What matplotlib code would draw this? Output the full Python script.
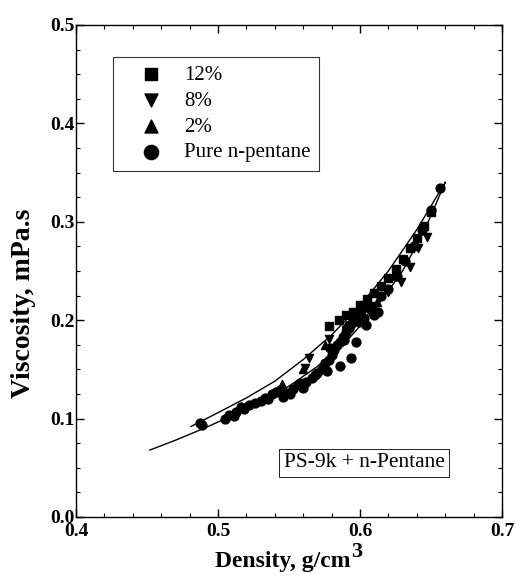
import numpy as np
import matplotlib.pyplot as plt

plt.rcParams['font.family'] = ['Liberation Serif', 'DejaVu Serif']

# PS-9k + n-pentane, viscosity vs density
# pure n-pentane
pure_d = [0.487, 0.489, 0.505, 0.508, 0.513, 0.518, 0.522, 0.526, 0.530, 0.535,
          0.538, 0.541, 0.546, 0.549, 0.553, 0.556, 0.560, 0.562, 0.566, 0.570,
          0.573, 0.575, 0.578, 0.580, 0.582, 0.584, 0.586, 0.588, 0.590, 0.592,
          0.594, 0.596, 0.598, 0.600, 0.602, 0.605, 0.608, 0.610, 0.577, 0.586,
          0.594, 0.597, 0.604, 0.613, 0.615, 0.620, 0.626, 0.632, 0.638, 0.644,
          0.650, 0.656, 0.511, 0.516, 0.533, 0.544, 0.551, 0.558, 0.568, 0.579,
          0.589, 0.599, 0.603]
pure_v = [0.095, 0.093, 0.100, 0.104, 0.107, 0.110, 0.114, 0.116, 0.118, 0.120,
          0.125, 0.127, 0.122, 0.126, 0.130, 0.134, 0.131, 0.137, 0.141, 0.146,
          0.150, 0.156, 0.160, 0.165, 0.170, 0.175, 0.178, 0.183, 0.188, 0.192,
          0.196, 0.200, 0.204, 0.208, 0.212, 0.216, 0.210, 0.205, 0.148, 0.153,
          0.162, 0.178, 0.195, 0.208, 0.225, 0.232, 0.245, 0.260, 0.275, 0.292,
          0.312, 0.334, 0.103, 0.112, 0.121, 0.129, 0.125, 0.136, 0.144, 0.172,
          0.180, 0.198, 0.202]

# 12 %
w12_d = [0.578, 0.585, 0.590, 0.595, 0.600, 0.605, 0.610, 0.615, 0.620, 0.625,
         0.630, 0.635, 0.640, 0.645, 0.650]
w12_v = [0.194, 0.200, 0.205, 0.208, 0.215, 0.222, 0.228, 0.235, 0.243, 0.252,
         0.262, 0.273, 0.283, 0.296, 0.310]

# 8 %
w8_d = [0.561, 0.564, 0.578, 0.590, 0.600, 0.610, 0.620, 0.629, 0.635, 0.641,
        0.647]
w8_v = [0.151, 0.162, 0.181, 0.190, 0.200, 0.214, 0.229, 0.239, 0.254, 0.273,
        0.285]

# 2 %
w2_d = [0.545, 0.560, 0.575, 0.590, 0.600, 0.612, 0.625]
w2_v = [0.135, 0.150, 0.175, 0.195, 0.205, 0.218, 0.245]

# model curves
fit1_d = [0.481, 0.500, 0.520, 0.540, 0.560, 0.580, 0.600, 0.620, 0.640, 0.660]
fit1_v = [0.092, 0.106, 0.121, 0.138, 0.160, 0.185, 0.215, 0.250, 0.292, 0.340]
fit2_d = [0.452, 0.470, 0.490, 0.510, 0.530, 0.550, 0.570, 0.590, 0.610, 0.630,
          0.645, 0.660]
fit2_v = [0.068, 0.078, 0.090, 0.103, 0.117, 0.133, 0.153, 0.178, 0.210, 0.250,
          0.290, 0.340]

fig = plt.figure(figsize=(5.16, 5.75), dpi=100)
ax = fig.add_axes([0.1473, 0.1009, 0.8256, 0.8557])

ax.plot(fit1_d, fit1_v, color='black', lw=1.0)
ax.plot(fit2_d, fit2_v, color='black', lw=1.0)

ms = 34
ax.scatter(w12_d, w12_v, marker='s', s=ms * 0.75, color='black', label='12%')
ax.scatter(w8_d, w8_v, marker='v', s=ms, color='black', label='8%')
ax.scatter(w2_d, w2_v, marker='^', s=ms, color='black', label='2%')
ax.scatter(pure_d, pure_v, marker='o', s=ms * 1.2, color='black',
           label='Pure n-pentane')

ax.set_xlim(0.4, 0.7)
ax.set_ylim(0.0, 0.5)
ax.set_xticks([0.4, 0.5, 0.6, 0.7])
ax.set_yticks([0.0, 0.1, 0.2, 0.3, 0.4, 0.5])
ax.set_xticks(np.arange(0.4, 0.7001, 0.02), minor=True)
ax.set_yticks(np.arange(0.0, 0.5001, 0.025), minor=True)
ax.xaxis.set_major_formatter(plt.FormatStrFormatter('%.1f'))
ax.yaxis.set_major_formatter(plt.FormatStrFormatter('%.1f'))
ax.tick_params(which='both', direction='in', top=True, right=True)
ax.tick_params(which='major', length=6, width=1, labelsize=14)
ax.tick_params(axis='x', which='major', pad=4)
ax.tick_params(axis='y', which='major', pad=1)
ax.tick_params(which='minor', length=3, width=0.8)
for lab in ax.get_xticklabels() + ax.get_yticklabels():
    lab.set_fontweight('bold')
for sp in ax.spines.values():
    sp.set_linewidth(1.0)

# axis labels
ax.set_xlabel('Density, g/cm', fontsize=17, fontweight='bold')
ax.xaxis.label.set_va('baseline')
ax.xaxis.set_label_coords(0.485, -0.1016)
ax.set_ylabel('Viscosity, mPa.s', fontsize=20, fontweight='bold')
ax.yaxis.label.set_va('center')
ax.yaxis.set_label_coords(-0.124, 0.435)

leg = ax.legend(loc='upper left', bbox_to_anchor=(0.087, 0.935), fontsize=15,
                frameon=True, fancybox=False, edgecolor='black',
                handletextpad=0.2, borderpad=0.4, labelspacing=0.3,
                markerscale=1.6, borderaxespad=0, handlelength=2.8)
leg.get_frame().set_linewidth(0.8)

ax.text(0.676, 0.110, 'PS-9k + n-Pentane', transform=ax.transAxes,
        ha='center', va='center', fontsize=15.5,
        bbox=dict(boxstyle='square,pad=0.2', fc='white', ec='black', lw=0.6))

# raised "3" after the density label
fig.canvas.draw()
bb = ax.xaxis.label.get_window_extent()
ax.annotate('3', xy=(bb.x1 + 1, 18), xycoords='figure pixels', fontsize=16,
            fontweight='bold', va='baseline', ha='left')

fig.savefig('out.png', dpi=100)
